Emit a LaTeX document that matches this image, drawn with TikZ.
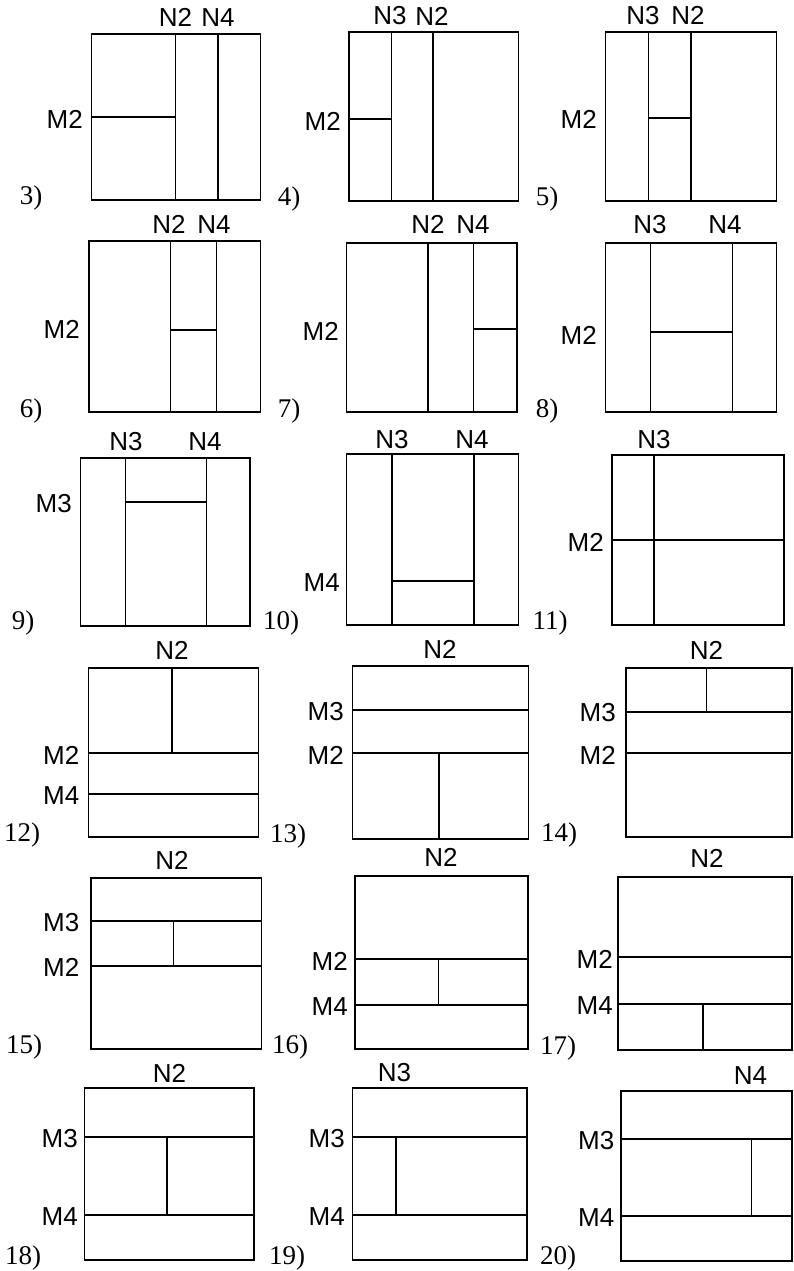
\documentclass[tikz,border=0pt]{standalone}
\usepackage{fontspec}
\setmainfont{Liberation Serif}
\setsansfont{Liberation Sans}
\usetikzlibrary{positioning}
\tikzset{
  frame/.style={draw,line width=1.9pt},
  cut/.style={line width=1.7pt},
  nlabel/.style={font=\sffamily\fontsize{26}{26}\selectfont,inner sep=0pt,anchor=south},
  mlabel/.style={font=\sffamily\fontsize{26}{26}\selectfont,inner sep=0pt,anchor=east},
  casenum/.style={font=\fontsize{27}{27}\selectfont,inner sep=0pt}
}
\begin{document}
\begin{tikzpicture}[x=1pt,y=-1pt]
  \useasboundingbox (0,0) rectangle (793,1271);

  % row 1
  \draw[frame] (91.5,33.7) rectangle (260.5,200);
  \draw[cut] (175.5,33.7) -- (175.5,200) (218,33.7) -- (218,200) (91.5,117) -- (175.5,117);
  \node[nlabel] (n3a) at (175.5,26.7) {N2};
  \node[nlabel] (n3b) at (218,26.7) {N4};
  \node[mlabel] (m3a) at (83,119) {M2};
  \node[casenum] (c3) at (31,198) {3)};

  \draw[frame] (349,32.3) rectangle (518.5,201);
  \draw[cut] (391.5,32.3) -- (391.5,201) (433,32.3) -- (433,201) (349,119) -- (391.5,119);
  \node[nlabel] (n4a) at (390,25.3) {N3};
  \node[nlabel] (n4b) at (432,25.3) {N2};
  \node[mlabel] (m4a) at (341,121) {M2};
  \node[casenum] (c4) at (289,199) {4)};

  \draw[frame] (605.5,32) rectangle (776.5,201);
  \draw[cut] (648.5,32) -- (648.5,201) (691,32) -- (691,201) (648.5,118) -- (691,118);
  \node[nlabel] (n5a) at (643,25) {N3};
  \node[nlabel] (n5b) at (688,25) {N2};
  \node[mlabel] (m5a) at (597,119) {M2};
  \node[casenum] (c5) at (547,199) {5)};

  % row 2
  \draw[frame] (89,241) rectangle (260.5,412);
  \draw[cut] (170.5,241) -- (170.5,412) (216.5,241) -- (216.5,412) (170.5,330) -- (216.5,330);
  \node[nlabel] (n6a) at (169,234) {N2};
  \node[nlabel] (n6b) at (214,234) {N4};
  \node[mlabel] (m6a) at (80,329) {M2};
  \node[casenum] (c6) at (31,411) {6)};

  \draw[frame] (346.5,243) rectangle (517,412);
  \draw[cut] (428,243) -- (428,412) (473.5,243) -- (473.5,412) (473.5,329) -- (517,329);
  \node[nlabel] (n7a) at (428,234) {N2};
  \node[nlabel] (n7b) at (473,234) {N4};
  \node[mlabel] (m7a) at (339,331) {M2};
  \node[casenum] (c7) at (289,411) {7)};

  \draw[frame] (605.5,243) rectangle (776.5,412);
  \draw[cut] (650.5,243) -- (650.5,412) (732.5,243) -- (732.5,412) (650.5,332) -- (732.5,332);
  \node[nlabel] (n8a) at (650,234) {N3};
  \node[nlabel] (n8b) at (725,234) {N4};
  \node[mlabel] (m8a) at (597,335) {M2};
  \node[casenum] (c8) at (547,411) {8)};

  % row 3
  \draw[frame] (80.5,457.7) rectangle (250,625.7);
  \draw[cut] (125.5,457.7) -- (125.5,625.7) (206.5,457.7) -- (206.5,625.7) (125.5,502) -- (206.5,502);
  \node[nlabel] (n9a) at (126,451) {N3};
  \node[nlabel] (n9b) at (205,451) {N4};
  \node[mlabel] (m9a) at (72,504) {M3};
  \node[casenum] (c9) at (23,623) {9)};

  \draw[frame] (346.5,454) rectangle (518.5,625);
  \draw[cut] (392,454) -- (392,625) (474,454) -- (474,625) (392,581) -- (474,581);
  \node[nlabel] (n10a) at (392,449) {N3};
  \node[nlabel] (n10b) at (472,449) {N4};
  \node[mlabel] (m10a) at (340,583) {M4};
  \node[casenum] (c10) at (281,623) {10)};

  \draw[frame] (612,455) rectangle (784,625);
  \draw[cut] (654,455) -- (654,625) (612,540) -- (784,540);
  \node[nlabel] (n11a) at (654,449) {N3};
  \node[mlabel] (m11a) at (604,542) {M2};
  \node[casenum] (c11) at (550,623) {11)};

  % row 4
  \draw[frame] (88.5,667.7) rectangle (258.5,837);
  \draw[cut] (172,667.7) -- (172,753) (88.5,753) -- (258.5,753) (88.5,794) -- (258.5,794);
  \node[nlabel] (n12a) at (172,660) {N2};
  \node[mlabel] (m12a) at (79.5,755) {M2};
  \node[mlabel] (m12b) at (79.5,796) {M4};
  \node[casenum] (c12) at (22,835) {12)};

  \draw[frame] (352.5,665.7) rectangle (528.5,838.7);
  \draw[cut] (352.5,710) -- (528.5,710) (352.5,753) -- (528.5,753) (439,753) -- (439,838.7);
  \node[nlabel] (n13a) at (440,659) {N2};
  \node[mlabel] (m13a) at (344,712) {M3};
  \node[mlabel] (m13b) at (344,755) {M2};
  \node[casenum] (c13) at (288,836) {13)};

  \draw[frame] (625.7,667.7) rectangle (792,837);
  \draw[cut] (706.6,667.7) -- (706.6,711.7) (625.7,711.7) -- (792,711.7) (625.7,753) -- (792,753);
  \node[nlabel] (n14a) at (706.5,660) {N2};
  \node[mlabel] (m14a) at (616,713) {M3};
  \node[mlabel] (m14b) at (616,755) {M2};
  \node[casenum] (c14) at (559,835) {14)};

  % row 5
  \draw[frame] (91,877.7) rectangle (261.5,1049);
  \draw[cut] (91,921) -- (261.5,921) (91,965.7) -- (261.5,965.7) (173.5,921) -- (173.5,965.7);
  \node[nlabel] (n15a) at (172,870) {N2};
  \node[mlabel] (m15a) at (79.5,923) {M3};
  \node[mlabel] (m15b) at (79.5,967) {M2};
  \node[casenum] (c15) at (24,1047) {15)};

  \draw[frame] (355,876) rectangle (527.6,1049);
  \draw[cut] (355,959) -- (527.6,959) (355,1005) -- (527.6,1005) (438.5,959) -- (438.5,1005);
  \node[nlabel] (n16a) at (441,867) {N2};
  \node[mlabel] (m16a) at (348,961) {M2};
  \node[mlabel] (m16b) at (348,1007) {M4};
  \node[casenum] (c16) at (290,1047) {16)};

  \draw[frame] (618,876.7) rectangle (792,1050);
  \draw[cut] (618,957) -- (792,957) (618,1004) -- (792,1004) (703,1004) -- (703,1050);
  \node[nlabel] (n17a) at (707,868) {N2};
  \node[mlabel] (m17a) at (613,959) {M2};
  \node[mlabel] (m17b) at (613,1006) {M4};
  \node[casenum] (c17) at (558,1048) {17)};

  % row 6
  \draw[frame] (84.5,1088) rectangle (254.4,1260);
  \draw[cut] (84.5,1136.7) -- (254.4,1136.7) (84.5,1215) -- (254.4,1215) (167,1136.7) -- (167,1215);
  \node[nlabel] (n18a) at (169.5,1083) {N2};
  \node[mlabel] (m18a) at (78,1139) {M3};
  \node[mlabel] (m18b) at (78,1217) {M4};
  \node[casenum] (c18) at (23,1258) {18)};

  \draw[frame] (352.5,1088) rectangle (527,1260);
  \draw[cut] (352.5,1137) -- (527,1137) (352.5,1215) -- (527,1215) (396,1137) -- (396,1215);
  \node[nlabel] (n19a) at (394.5,1082) {N3};
  \node[mlabel] (m19a) at (345,1139) {M3};
  \node[mlabel] (m19b) at (345,1217) {M4};
  \node[casenum] (c19) at (287,1258) {19)};

  \draw[frame] (621,1090.7) rectangle (792,1260.7);
  \draw[cut] (621,1139) -- (792,1139) (621,1216) -- (792,1216) (751.6,1139) -- (751.6,1216);
  \node[nlabel] (n20a) at (750.5,1085) {N4};
  \node[mlabel] (m20a) at (614.5,1141) {M3};
  \node[mlabel] (m20b) at (614.5,1218) {M4};
  \node[casenum] (c20) at (558,1258) {20)};
\end{tikzpicture}
\end{document}
